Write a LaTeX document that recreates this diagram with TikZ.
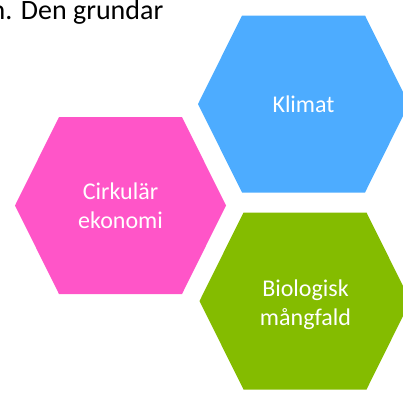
\documentclass[tikz,border=0pt]{standalone}
\usepackage{fontspec}
\setmainfont{Carlito}
\usepackage{tikz}

\definecolor{klimatblue}{RGB}{77,172,255}
\definecolor{cirkpink}{RGB}{255,85,200}
\definecolor{biogreen}{RGB}{132,188,0}

% flat-topped hexagon round a centre
\newcommand{\hexcell}[3]{%
  \fill[#3] (#1,#2) +(-105.5,0) -- +(-61.5,-88.5) -- +(61.5,-88.5)
    -- +(105.5,0) -- +(61.5,88.5) -- +(-61.5,88.5) -- cycle;}

\begin{document}
\begin{tikzpicture}[x=1pt,y=-1pt,
    celltext/.style={text=white, align=center, inner sep=0pt,
      font=\fontsize{24}{29.4}\selectfont}]

        \useasboundingbox (0,0) rectangle (403,392);

        \node[anchor=base west, inner sep=0pt, font=\fontsize{28}{33}\selectfont]
          (intro) at (-9.5,19.5) {n. Den grundar};

        \hexcell{303.5}{104}{klimatblue}
        \hexcell{120.5}{205.5}{cirkpink}
        \hexcell{305}{301}{biogreen}

        \begin{scope}[every node/.style={celltext}]
          \node (klimat) at (303.5,104) {Klimat};
          \node (cirk)   at (120.5,205.5) {Cirkulär\\ekonomi};
          \node (bio)    at (305.5,305) {Biologisk\\mångfald};
        \end{scope}

      \end{tikzpicture}
\end{document}
